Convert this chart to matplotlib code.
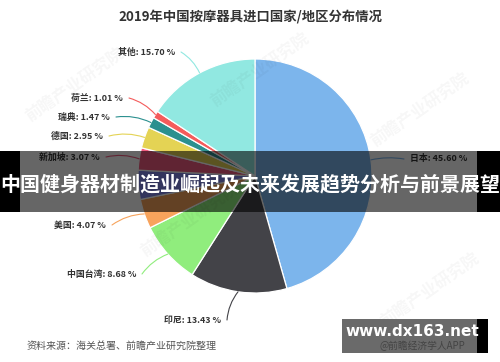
import numpy as np
import matplotlib
matplotlib.use("Agg")
import matplotlib.pyplot as plt
from matplotlib.patches import Rectangle

plt.rcParams['font.family'] = ['Noto Sans CJK SC', 'DejaVu Sans']

# ---- data ----
regions = ['日本', '印尼', '中国台湾', '美国', '韩国', '新加坡', '德国', '瑞典', '荷兰', '其他']
shares = [45.60, 13.43, 8.68, 4.07, 4.02, 3.07, 2.95, 1.47, 1.01, 15.70]
colors = ['#7cb5ec', '#434348', '#90ed7d', '#f7a35c', '#8085e9',
          '#f15c80', '#e4d354', '#2b908f', '#f45b5b', '#91e8e1']
title = '2019年中国按摩器具进口国家/地区分布情况'
banner = '中国健身器材制造业崛起及未来发展趋势分析与前景展望'
source = '资料来源：海关总署、前瞻产业研究院整理'

# label layout in pixel coords (x of text end nearest the pie, y centre, side)
# (the 韩国 label is hidden under the banner in the reference)
label_pos = {
    '日本': (410, 159, 'L'),
    '印尼': (221, 320, 'R'),
    '中国台湾': (136, 274, 'R'),
    '美国': (106, 225, 'R'),
    '新加坡': (100, 157, 'R'),
    '德国': (103, 136, 'R'),
    '瑞典': (110, 117, 'R'),
    '荷兰': (123, 98, 'R'),
    '其他': (175, 52, 'R'),
}

W, H = 500, 362
fig = plt.figure(figsize=(5.0, 3.62), dpi=100)
ax = fig.add_axes([0, 0, 1, 1])

def Y(py):
    return H - py

cx, cy, R = 255, Y(176), 117
wedges, _ = ax.pie(shares, colors=colors, startangle=90, counterclock=False,
                   center=(cx, cy), radius=R,
                   wedgeprops=dict(edgecolor='white', linewidth=0.9))
ax.set_xlim(0, W)
ax.set_ylim(0, H)
ax.set_aspect('equal', adjustable='box')
ax.axis('off')

# faint watermarks
for (wx, wy) in [(75, 85), (260, 70), (190, 220), (420, 110), (430, 290)]:
    ax.text(wx, Y(wy), '前瞻产业研究院', rotation=35, fontsize=12, color='#000000',
            alpha=0.035, ha='center', va='center', fontweight='bold')

# labels and connectors
for w, name, val, col in zip(wedges, regions, shares, colors):
    if name not in label_pos:
        continue
    th = np.deg2rad((w.theta1 + w.theta2) / 2)
    ax_, ay_ = cx + R * np.cos(th), cy + R * np.sin(th)
    lx, ly, side = label_pos[name]
    txt = f'{name}: {val:.2f} %'
    if side == 'R':
        ax.text(lx, Y(ly), txt, ha='right', va='center', fontsize=6.4,
                fontweight='bold', color='#333333')
        sx = lx + 6
    else:
        ax.text(lx, Y(ly), txt, ha='left', va='center', fontsize=6.4,
                fontweight='bold', color='#333333')
        sx = lx - 6
    ax.annotate('', xy=(ax_, ay_), xytext=(sx, Y(ly)),
                arrowprops=dict(arrowstyle='-', color=col, lw=0.8,
                                connectionstyle='arc3,rad=-0.15' if side == 'R' else 'arc3,rad=0.1',
                                shrinkA=0, shrinkB=0))

# title
ax.text(250, Y(17), title, ha='center', va='center', fontsize=9.6,
        fontweight='bold', color='#333333')

# source
ax.text(27, Y(346), source, ha='left', va='center', fontsize=7.2, color='#555555')

# banner overlay
ax.add_patch(Rectangle((0, Y(212)), W, 61, facecolor='black', alpha=0.6,
                       edgecolor='none', zorder=10))
ax.add_patch(Rectangle((0, Y(212)), 20, 61, facecolor='black', edgecolor='none', zorder=11))
ax.add_patch(Rectangle((477, Y(212)), 23, 61, facecolor='black', edgecolor='none', zorder=11))
ax.text(250, Y(184), banner, ha='center', va='center', fontsize=14.4,
        fontweight='bold', color='white', zorder=12)

# website box
ax.add_patch(Rectangle((342, Y(353)), 135, 34, facecolor='#6a6a6a',
                       edgecolor='none', zorder=10))
ax.text(380, Y(346), '@前瞻经济学人APP', ha='left', va='center', fontsize=7,
        color='#444444', zorder=11)
ax.add_patch(Rectangle((477, Y(353)), 11, 34, facecolor='black',
                       edgecolor='none', zorder=12))
ax.text(412, Y(332), 'www.dx163.net', ha='center', va='center', fontsize=11,
        fontweight='bold', color='white', family='DejaVu Sans', zorder=13)

fig.savefig('out.png', dpi=100)
